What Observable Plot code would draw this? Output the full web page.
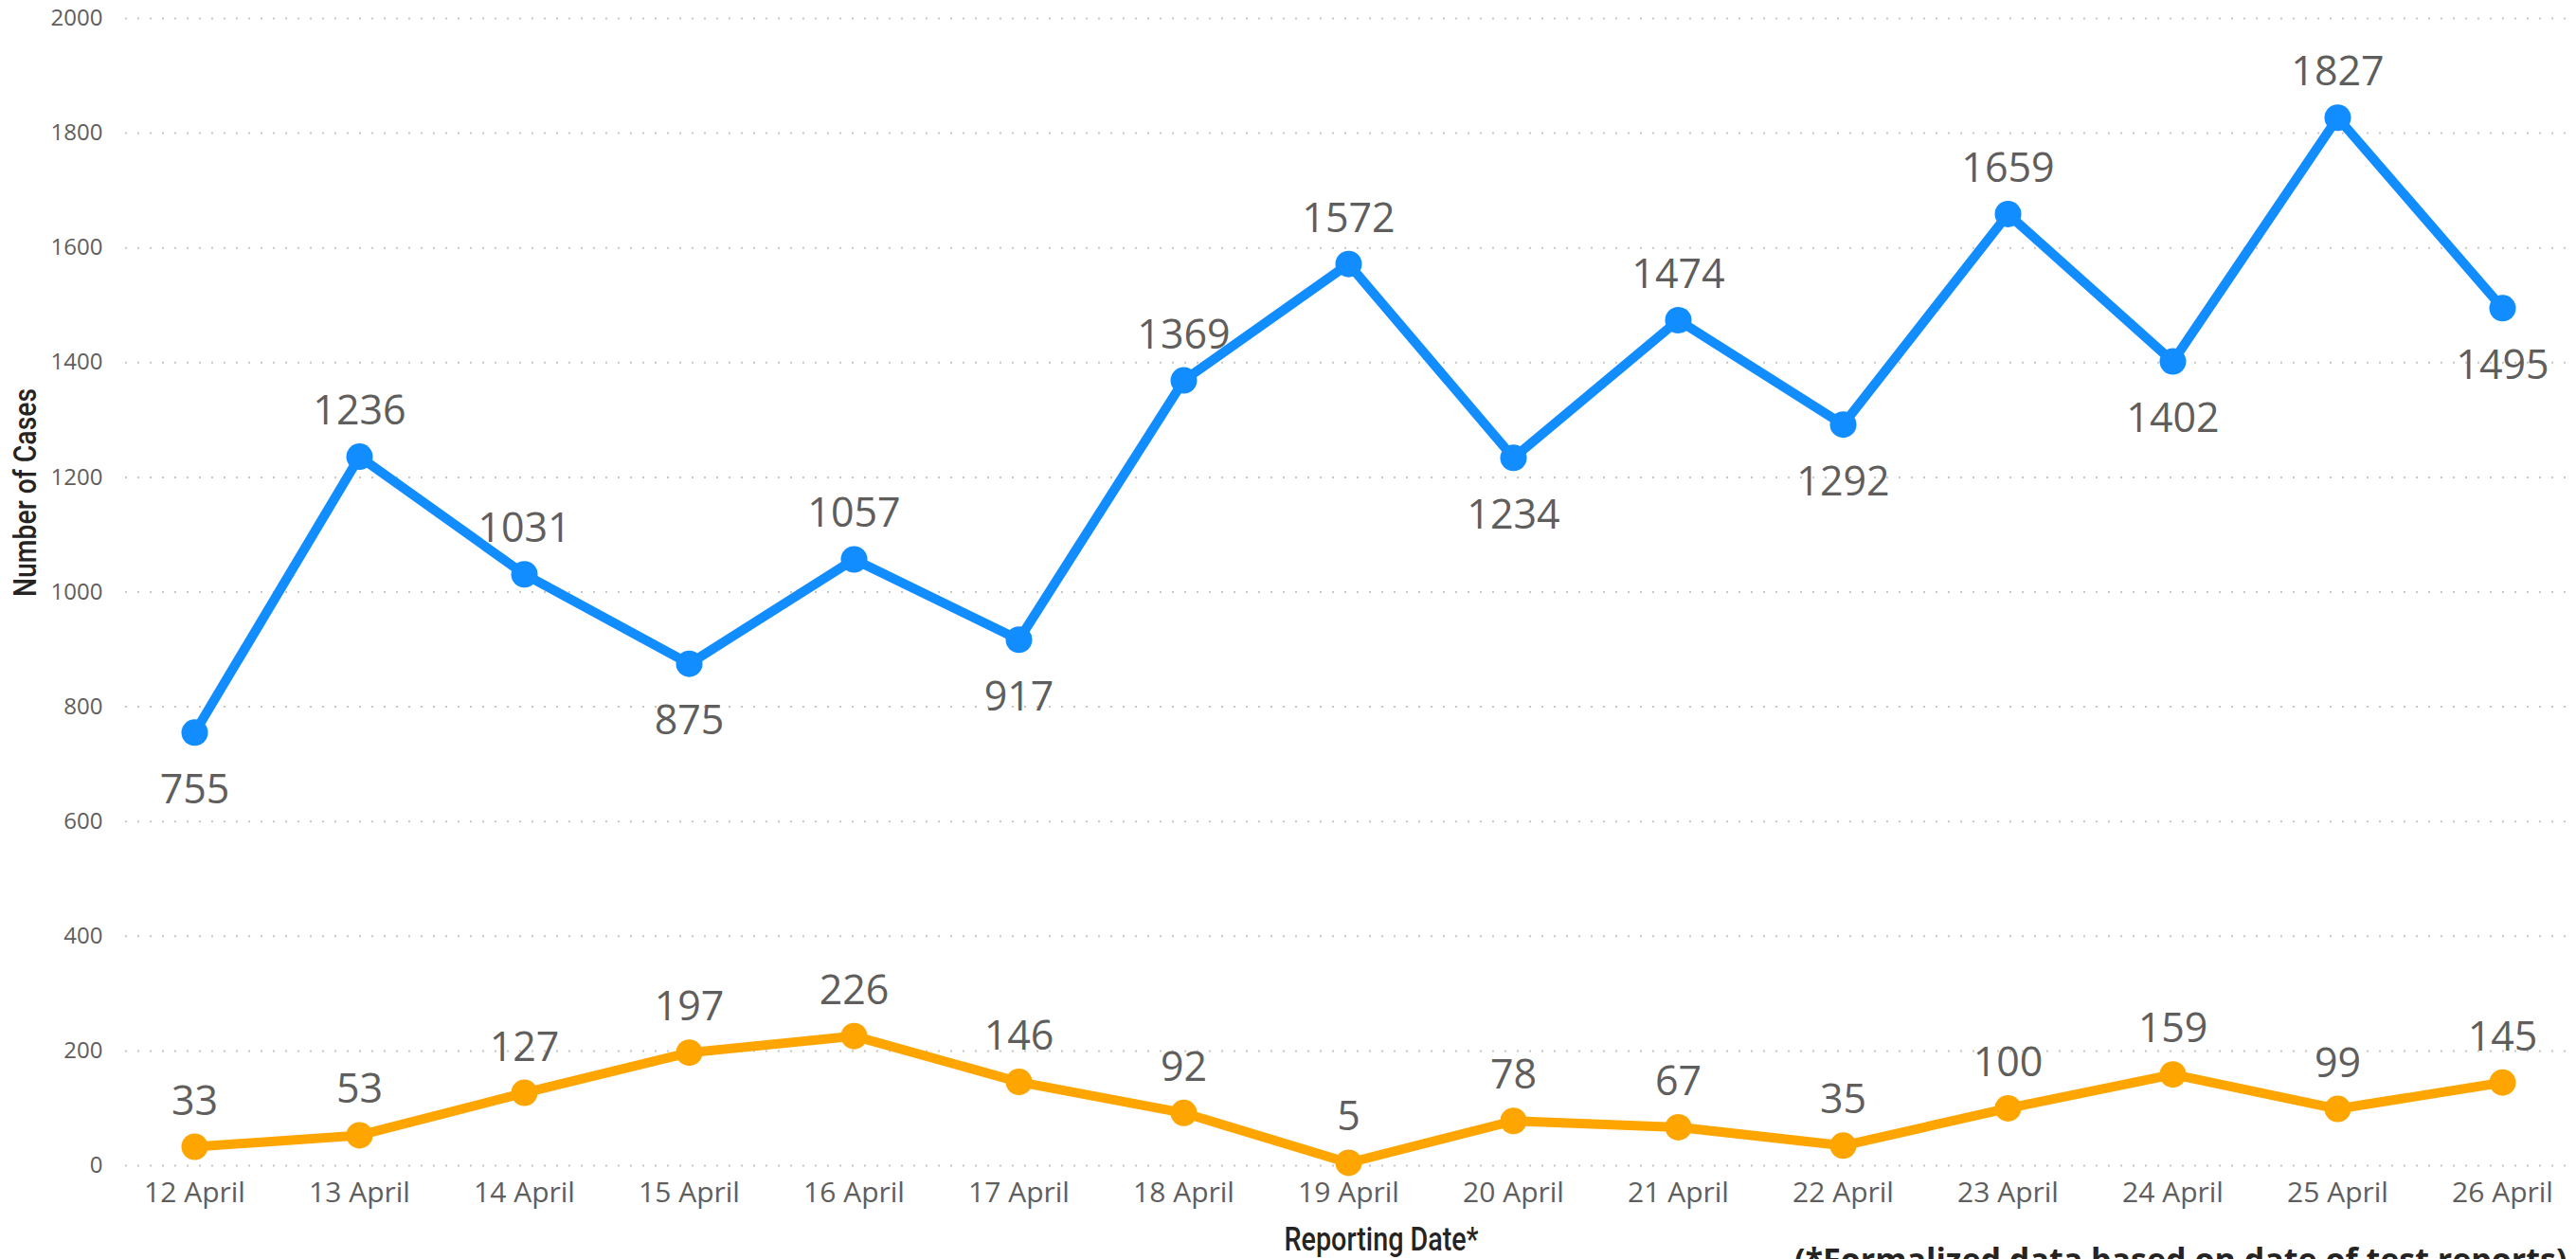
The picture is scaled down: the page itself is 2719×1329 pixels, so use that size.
<!DOCTYPE html>
<html>
<head>
<meta charset="utf-8">
<script src="https://cdn.jsdelivr.net/npm/d3@7"></script>
<script src="https://cdn.jsdelivr.net/npm/@observablehq/plot@0.6"></script>
<style>
  html, body { margin: 0; padding: 0; background: #ffffff; overflow: hidden; }
  #chart svg { display: block; }
</style>
</head>
<body>
<div id="chart"></div>
<script>
// ---- data ----
const dates = ["12 April", "13 April", "14 April", "15 April", "16 April", "17 April", "18 April",
               "19 April", "20 April", "21 April", "22 April", "23 April", "24 April", "25 April", "26 April"];
const blueSeries = [755, 1236, 1031, 875, 1057, 917, 1369, 1572, 1234, 1474, 1292, 1659, 1402, 1827, 1495];
const orangeSeries = [33, 53, 127, 197, 226, 146, 92, 5, 78, 67, 35, 100, 159, 99, 145];
const yTicks = [0, 200, 400, 600, 800, 1000, 1200, 1400, 1600, 1800, 2000];
const xTitle = "Reporting Date*";
const yTitle = "Number of Cases";
const caption = "(*Formalized data based on date of test reports)";

// ---- tables ----
const blueRows = dates.map((d, i) => ({date: d, value: blueSeries[i], i}));
const orangeRows = dates.map((d, i) => ({date: d, value: orangeSeries[i], i}));
const n = blueSeries.length;
const isLocalMin = (i) =>
  (i === 0 || blueSeries[i] < blueSeries[i - 1]) && (i === n - 1 || blueSeries[i] < blueSeries[i + 1]);

const BLUE = "#118DFF";
const ORANGE = "#FFA500";
const LABEL = "#605E5C";
const TITLE = "#252423";
const FONT = "'Open Sans', 'Noto Sans', sans-serif";
const TITLE_FONT = "Roboto, sans-serif";

const chart = Plot.plot({
  width: 2719,
  height: 1329,
  marginTop: 19,
  marginBottom: 99,
  marginLeft: 132,
  marginRight: 0,
  style: {fontFamily: FONT, color: LABEL, background: "#ffffff"},
  x: {type: "point", domain: dates, range: [201, 2644], padding: 0},
  y: {domain: [0, 2000]},
  marks: [
    Plot.ruleY(yTicks, {stroke: "#c8c6c4", strokeWidth: 2, strokeDasharray: "2,11"}),
    Plot.axisY({ticks: yTicks, tickSize: 0, tickPadding: 24, fontSize: 24, label: null, tickFormat: d => String(d)}),
    Plot.axisX({tickSize: 0, tickPadding: 17, fontSize: 30, label: null}),

    Plot.line(blueRows, {x: "date", y: "value", stroke: BLUE, strokeWidth: 10, strokeLinejoin: "round"}),
    Plot.line(orangeRows, {x: "date", y: "value", stroke: ORANGE, strokeWidth: 10, strokeLinejoin: "round"}),
    Plot.dot(blueRows, {x: "date", y: "value", r: 14, fill: BLUE, stroke: "none"}),
    Plot.dot(orangeRows, {x: "date", y: "value", r: 14, fill: ORANGE, stroke: "none"}),

    Plot.text(blueRows.filter(d => !isLocalMin(d.i)), {x: "date", y: "value", text: d => String(d.value),
      lineAnchor: "bottom", dy: -34, fontSize: 43, fill: LABEL}),
    Plot.text(blueRows.filter(d => isLocalMin(d.i)), {x: "date", y: "value", text: d => String(d.value),
      lineAnchor: "top", dy: 44, fontSize: 43, fill: LABEL}),
    Plot.text(orangeRows, {x: "date", y: "value", text: d => String(d.value),
      lineAnchor: "bottom", dy: -34, fontSize: 43, fill: LABEL}),

    Plot.text([xTitle], {frameAnchor: "bottom", dx: 32, dy: 89, lineAnchor: "bottom",
      fontSize: 35, fontWeight: 500, fill: TITLE, fontFamily: TITLE_FONT, className: "xtitle"}),
    Plot.text([yTitle], {frameAnchor: "left", dx: -95, dy: 5, rotate: -90, lineAnchor: "bottom",
      fontSize: 33, fontWeight: 500, fill: TITLE, fontFamily: TITLE_FONT, className: "ytitle"}),
    Plot.text([caption], {frameAnchor: "bottom-right", textAnchor: "end", dx: -10, dy: 87, lineAnchor: "top",
      fontSize: 34, fontWeight: 700, fill: TITLE})
  ]
});
// condense the axis titles (reference uses a narrow DIN-like face)
d3.select(chart).selectAll(".xtitle text").attr("textLength", 205).attr("lengthAdjust", "spacingAndGlyphs");
d3.select(chart).selectAll(".ytitle text").attr("textLength", 220).attr("lengthAdjust", "spacingAndGlyphs");
document.getElementById("chart").appendChild(chart);
</script>
</body>
</html>
